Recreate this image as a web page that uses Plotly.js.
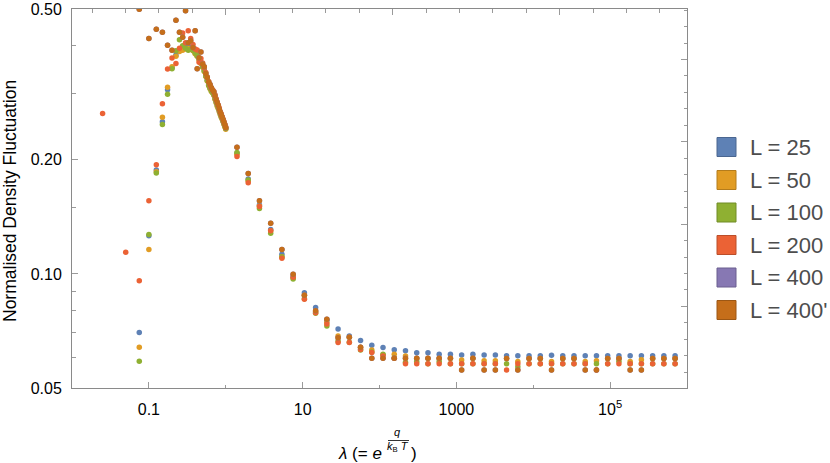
<!DOCTYPE html>
<html>
<head>
<meta charset="utf-8">
<script src="https://cdn.plot.ly/plotly-3.0.1.min.js"></script>
<style>html,body{margin:0;padding:0;background:#fff;}#chart{width:830px;height:463px;}</style>
</head>
<body>
<div id="chart"></div>
<script>
// ---------------- DATA ----------------
const seriesNames = ["L = 25", "L = 50", "L = 100", "L = 200", "L = 400", "L = 400'"];
const seriesColors = ["#5E81B5", "#E19C24", "#8FB032", "#EB6235", "#8778B3", "#C56E1A"];
const seriesEdge = ["#4a6690", "#b47c1c", "#718c27", "#bb4e2a", "#6b5f8f", "#9c5714"];

const lambdaFine = [0.025,0.05,0.075,0.1,0.125,0.15,0.175,0.2,0.225,0.25,0.275,0.3,0.325,0.35,0.375,0.4,0.425,0.45,0.475,0.5,
  0.525,0.55,0.575,0.6,0.625,0.65,0.675,0.7,0.725,0.75,0.775,0.8,0.825,0.85,0.875,0.9,0.925,0.95,0.975,1.0];
const lambdaCoarse = [1.4,1.96,2.744,3.842,5.378,7.530,10.54,14.76,20.66,28.93,40.50,56.69,79.37,111.1,155.6,217.8,304.9,426.9,597.6,836.7,
  1171,1640,2296,3214,4500,6300,8820,12348,17287,24201,33882,47435,66409,92972,130161,182225,255115,357161,500026,700036];

const L25_fine = [null,null,0.070,0.126,0.188,0.252,0.306,0.350,0.378,0.391,0.396,0.398,0.398,0.395,0.390,0.384,0.377,0.370,0.362,0.354,
  0.345,0.334,0.325,0.316,0.310,0.305,0.302,0.298,0.291,0.285,0.280,0.275,0.270,0.265,0.261,0.257,0.253,0.249,0.246,0.242];
const L50_fine = [null,null,0.064,0.116,0.186,0.259,0.311,0.352,0.375,0.386,0.389,0.392,0.394,0.392,0.388,0.381,0.375,0.367,0.359,0.351,
  0.342,0.332,0.323,0.314,0.308,0.303,0.300,0.296,0.289,0.283,0.277,0.273,0.268,0.263,0.259,0.256,0.252,0.248,0.244,0.241];
const L100_fine = [null,null,0.0588,0.127,0.1845,0.248,0.298,0.348,0.388,0.415,0.400,0.394,0.389,0.392,0.389,0.383,0.376,0.369,0.360,0.352,
  0.343,0.333,0.324,0.314,0.309,0.304,0.301,0.297,0.290,0.284,0.279,0.274,0.269,0.264,0.260,0.257,0.253,0.249,0.245,0.242];
const L200_fine = [0.265,0.114,0.096,0.156,0.194,0.281,0.347,0.371,0.359,0.394,0.432,0.407,0.438,0.418,0.403,0.392,0.390,0.362,0.370,0.360,
  0.350,0.340,0.331,0.322,0.314,0.309,0.306,0.303,0.297,0.290,0.284,0.279,0.274,0.268,0.264,0.260,0.256,0.252,0.248,0.244];
const L400_fine = [null,null,0.4995,0.418,0.442,0.434,0.401,0.389,0.467,0.434,0.421,0.495,0.407,0.412,0.396,0.438,0.348,0.372,0.385,0.358,
  0.352,0.338,0.330,0.321,0.316,0.310,0.305,0.302,0.295,0.288,0.283,0.278,0.272,0.267,0.263,0.259,0.255,0.251,0.247,0.243];
const L400p_fine = [null,null,0.4995,0.418,0.442,0.434,0.401,0.389,0.467,0.434,0.421,0.495,0.407,0.412,0.396,0.438,0.348,0.372,0.385,0.358,
  0.352,0.338,0.330,0.321,0.316,0.310,0.305,0.302,0.295,0.288,0.283,0.278,0.272,0.267,0.263,0.259,0.255,0.251,0.247,0.243];

const L25_coarse = [0.208,0.178,0.152,0.131,0.1127,0.0985,0.0892,0.0815,0.0755,0.0716,0.0686,0.0667,0.0648,0.0639,0.0631,0.0627,0.0619,0.0619,0.0614,0.0614,
  0.0611,0.0614,0.0611,0.0611,0.0608,0.0608,0.0608,0.0608,0.0610,0.0608,0.0608,0.0608,0.0608,0.0608,0.0608,0.0608,0.0608,0.0608,0.0608,0.0608];
const L50_coarse = [0.207,0.176,0.151,0.130,0.111,0.0975,0.0878,0.0795,0.0745,0.0686,0.0681,0.0640,0.0630,0.0612,0.0614,0.0607,0.0598,0.0598,0.0598,0.0598,
  0.0593,0.0598,0.0590,0.0590,0.0598,0.0587,0.0598,0.0598,0.0587,0.0598,0.0598,0.0587,0.0590,0.0598,0.0598,0.0587,0.0594,0.0598,0.0598,0.0598];
const L100_coarse = [0.209,0.177,0.1487,0.128,0.111,0.097,0.086,0.0787,0.0729,0.0665,0.066,0.063,0.0622,0.0614,0.0600,0.0585,0.0587,0.0579,0.0587,0.0579,
  0.0579,0.0579,0.0579,0.0579,0.0579,0.0569,0.0579,0.0579,0.0579,0.0579,0.0579,0.0579,0.0579,0.0579,0.0588,0.0579,0.0579,0.0579,0.0579,0.0579];
const L200_coarse = [0.204,0.174,0.1505,0.130,0.110,0.098,0.0857,0.079,0.0738,0.0659,0.0659,0.0632,0.0620,0.0607,0.0599,0.0579,0.0579,0.0579,0.0579,0.0579,
  0.0579,0.0579,0.0579,0.0579,0.0558,0.0579,0.0579,0.0579,0.0579,0.0579,0.0579,0.0579,0.0558,0.0579,0.0579,0.0579,0.0579,0.0579,0.0579,0.0579];
const L400_coarse = [0.216,0.184,0.156,0.136,0.1159,0.0998,0.0878,0.0799,0.0759,0.0679,0.0681,0.0640,0.0599,0.0599,0.0599,0.0599,0.0599,0.0599,0.0599,0.0599,
  0.0558,0.0599,0.0558,0.0558,0.0598,0.0558,0.0598,0.0598,0.0558,0.0598,0.0598,0.0558,0.0558,0.0598,0.0598,0.0558,0.0558,0.0598,0.0598,0.0598];
const L400p_coarse = [0.216,0.184,0.156,0.136,0.1159,0.0998,0.0878,0.0799,0.0759,0.0679,0.0681,0.0640,0.0599,0.0599,0.0599,0.0599,0.0599,0.0599,0.0599,0.0599,
  0.0558,0.0599,0.0558,0.0558,0.0598,0.0558,0.0598,0.0598,0.0558,0.0598,0.0598,0.0558,0.0558,0.0598,0.0598,0.0558,0.0558,0.0598,0.0598,0.0598];

const xTickVals = [0.1, 10, 1000, 100000];
const xTickText = ["0.1", "10", "1000", "10<sup>5</sup>"];
const xMinorVals = [0.01, 1, 100, 10000, 1000000];
const yTickVals = [0.05, 0.1, 0.2, 0.5];
const yTickText = ["0.05", "0.10", "0.20", "0.50"];
const yMinorVals = [0.06, 0.07, 0.08, 0.09, 0.15, 0.3, 0.4];

// ---------------- LAYOUT HELPERS ----------------
const W = 830, H = 463, M = {l: 72, r: 143, t: 9, b: 75};
const PW = W - M.l - M.r, PH = H - M.t - M.b;
const px = x => (x - M.l) / PW;
const py = y => (H - M.b - y) / PH;

const fineSets = [L25_fine, L50_fine, L100_fine, L200_fine, L400_fine, L400p_fine];
const coarseSets = [L25_coarse, L50_coarse, L100_coarse, L200_coarse, L400_coarse, L400p_coarse];
const allLambda = lambdaFine.concat(lambdaCoarse);

const traces = seriesNames.map((name, i) => ({
  type: 'scatter', mode: 'markers', name: name,
  x: allLambda, y: fineSets[i].concat(coarseSets[i]),
  marker: {color: seriesColors[i], size: 5.5, line: {width: 0}},
  showlegend: false, hoverinfo: 'x+y'
}));
// helper trace for the top/right frame axes
traces.push({type: 'scatter', mode: 'markers', x: [null], y: [null], xaxis: 'x2', yaxis: 'y2', showlegend: false, hoverinfo: 'skip'});

// top/right frame ticks (natural-log spaced, as in the original frame)
const topMajor = [], topMinor = [];
for (let k = -4; k <= 13; k++) { (k % 5 === 0 ? topMajor : topMinor).push(Math.exp(k)); }
const rightMajor = [], rightMinor = [];
for (let k = -29; k <= -7; k++) { (k % 5 === 0 ? rightMajor : rightMinor).push(Math.exp(k / 10)); }

const frameCol = '#8a8a8a', tickCol = '#9a9a9a';
const xr = [-2, 6], yr = [Math.log10(0.05), Math.log10(0.5)];

const shapes = [], annotations = [];
// legend
const legendY = [147, 180, 212.5, 245, 277.5, 310];
seriesNames.forEach((n, i) => {
  shapes.push({type: 'rect', xref: 'paper', yref: 'paper',
    x0: px(717), x1: px(736), y0: py(legendY[i] + 9.5), y1: py(legendY[i] - 9.5),
    fillcolor: seriesColors[i], line: {color: seriesEdge[i], width: 1}});
  annotations.push({text: n, xref: 'paper', yref: 'paper', x: px(748), y: py(legendY[i]),
    xanchor: 'left', yanchor: 'middle', showarrow: false,
    font: {size: 22, color: '#4d4d4d', family: 'Liberation Sans, Arial, sans-serif'}});
});
// y title
annotations.push({text: 'Normalised Density Fluctuation', xref: 'paper', yref: 'paper',
  x: px(10), y: py(201), textangle: -90, showarrow: false, xanchor: 'center', yanchor: 'middle',
  font: {size: 17.5, color: '#000'}});
// x title: λ (= e^{q / (k_B T)})
annotations.push({text: '<i>λ</i> (= <i>e</i>', xref: 'paper', yref: 'paper', x: px(384), y: py(453),
  xanchor: 'right', yanchor: 'middle', showarrow: false, font: {size: 17, color: '#000'}});
annotations.push({text: '<i>q</i>', xref: 'paper', yref: 'paper', x: px(398), y: py(432),
  xanchor: 'center', yanchor: 'middle', showarrow: false, font: {size: 11, color: '#000'}});
annotations.push({text: '<i>k</i><sub>B</sub> <i>T</i>', xref: 'paper', yref: 'paper', x: px(398), y: py(447),
  xanchor: 'center', yanchor: 'middle', showarrow: false, font: {size: 11, color: '#000'}});
annotations.push({text: ')', xref: 'paper', yref: 'paper', x: px(409), y: py(453),
  xanchor: 'left', yanchor: 'middle', showarrow: false, font: {size: 17, color: '#000'}});
shapes.push({type: 'line', xref: 'paper', yref: 'paper', x0: px(388), x1: px(409), y0: py(440.5), y1: py(440.5),
  line: {color: '#000', width: 0.8}});

const layout = {
  width: W, height: H, margin: M,
  paper_bgcolor: '#fff', plot_bgcolor: '#fff',
  font: {family: 'Liberation Sans, Arial, sans-serif', size: 16, color: '#000'},
  showlegend: false,
  xaxis: {type: 'log', range: xr, tickmode: 'array', tickvals: xTickVals, ticktext: xTickText,
    ticks: 'inside', ticklen: 6, tickcolor: tickCol, tickwidth: 1,
    showline: true, linecolor: frameCol, linewidth: 1, mirror: true,
    showgrid: false, zeroline: false, ticklabelstandoff: 7,
    minor: {tickmode: 'array', tickvals: xMinorVals, ticks: 'inside', ticklen: 3.5, tickcolor: tickCol, showgrid: false},
    tickfont: {size: 16}},
  yaxis: {type: 'log', range: yr, tickmode: 'array', tickvals: yTickVals, ticktext: yTickText,
    ticks: 'inside', ticklen: 6, tickcolor: tickCol, tickwidth: 1,
    showline: true, linecolor: frameCol, linewidth: 1, mirror: true,
    showgrid: false, zeroline: false, ticklabelstandoff: 6,
    minor: {tickmode: 'array', tickvals: yMinorVals, ticks: 'inside', ticklen: 3.5, tickcolor: tickCol, showgrid: false},
    tickfont: {size: 16}},
  xaxis2: {type: 'log', range: xr, overlaying: 'x', side: 'top', anchor: 'y2',
    tickmode: 'array', tickvals: topMajor, ticks: 'inside', ticklen: 6, tickcolor: tickCol,
    showticklabels: false, showline: false, showgrid: false, zeroline: false,
    minor: {tickmode: 'array', tickvals: topMinor, ticks: 'inside', ticklen: 3.5, tickcolor: tickCol, showgrid: false}},
  yaxis2: {type: 'log', range: yr, overlaying: 'y', side: 'right', anchor: 'x2',
    tickmode: 'array', tickvals: rightMajor, ticks: 'inside', ticklen: 6, tickcolor: tickCol,
    showticklabels: false, showline: false, showgrid: false, zeroline: false,
    minor: {tickmode: 'array', tickvals: rightMinor, ticks: 'inside', ticklen: 3.5, tickcolor: tickCol, showgrid: false}},
  shapes: shapes, annotations: annotations
};

Plotly.newPlot('chart', traces, layout, {displayModeBar: false, staticPlot: true});
</script>
</body>
</html>
